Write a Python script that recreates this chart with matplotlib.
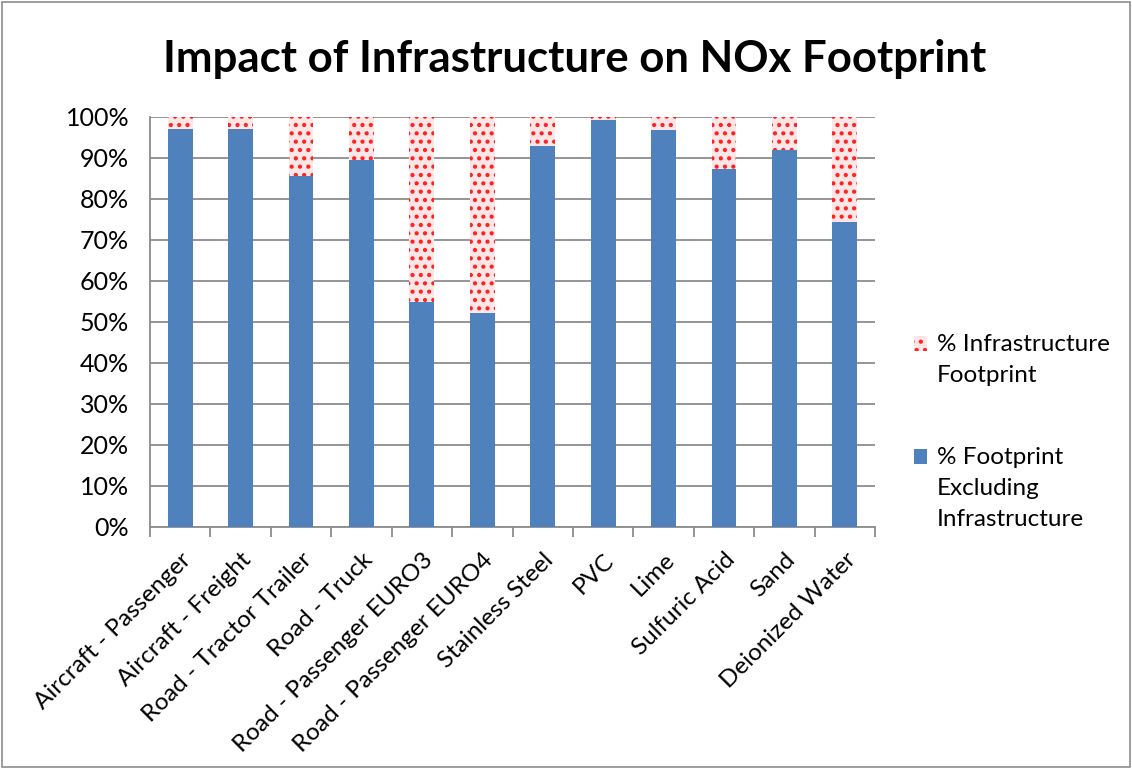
import matplotlib
matplotlib.use("Agg")
import matplotlib.pyplot as plt
import numpy as np
from matplotlib.ticker import PercentFormatter, FixedLocator
from matplotlib.legend_handler import HandlerPatch
from matplotlib.patches import Rectangle

plt.rcParams['font.family'] = ['Lato', 'DejaVu Sans']
plt.rcParams['hatch.linewidth'] = 1.8

categories = ["Aircraft - Passenger", "Aircraft - Freight", "Road - Tractor Trailer",
              "Road - Truck", "Road - Passenger EURO3", "Road - Passenger EURO4",
              "Stainless Steel", "PVC", "Lime", "Sulfuric Acid", "Sand", "Deionized Water"]
excl_infra = [97.0, 97.1, 85.7, 89.6, 54.9, 52.3, 93.0, 99.3, 96.7, 87.2, 92.0, 74.4]
infra = [100 - v for v in excl_infra]
series_names = ["% Infrastructure\nFootprint", "% Footprint\nExcluding\nInfrastructure"]

FS = 17.5

fig = plt.figure(figsize=(11.32, 7.69), dpi=100)
ax = fig.add_axes([0.1325, 0.3147, 0.773 - 0.1325, 0.8479 - 0.3147])

x = np.arange(len(categories))
w = 0.41
b1 = ax.bar(x, excl_infra, width=w, color='#4f81bd', zorder=3, label=series_names[1])
b2 = ax.bar(x, infra, width=w, bottom=excl_infra, facecolor='#ffe6e6', edgecolor='#ff2020',
            hatch='..', linewidth=0, zorder=3, label=series_names[0])

ax.set_xlim(-0.5, len(categories) - 0.5)
ax.set_ylim(0, 100)
ax.set_yticks(np.arange(0, 101, 10))
ax.yaxis.set_major_formatter(PercentFormatter(decimals=0))
ax.grid(axis='y', color='#8c8c8c', linewidth=1.3, zorder=0)
for s in ['top', 'right']:
    ax.spines[s].set_visible(False)
ax.spines['left'].set_color('#8c8c8c')
ax.spines['bottom'].set_color('#8c8c8c')
ax.spines['left'].set_linewidth(1.3)
ax.spines['bottom'].set_linewidth(1.3)
ax.tick_params(axis='y', length=0, labelsize=18, pad=15)
ax.set_xticks(x)
ax.set_xticklabels(categories, rotation=45, ha='right', rotation_mode='anchor', fontsize=FS)
ax.tick_params(axis='x', length=0, pad=16)
ax.xaxis.set_minor_locator(FixedLocator(np.arange(-0.5, len(categories), 1)))
ax.tick_params(axis='x', which='minor', length=7, color='#8c8c8c', width=1.3, direction='out')

fig.suptitle("Impact of Infrastructure on NOx Footprint", x=0.508, y=0.949,
             fontsize=31.5, fontweight='bold')


def make_handler(shift_lines):
    def pf(legend, orig_handle, xdescent, ydescent, width, height, fontsize):
        shift = shift_lines * fontsize * 1.32
        return Rectangle(xy=(-xdescent, -ydescent + shift), width=width, height=height)
    return HandlerPatch(patch_func=pf)


h2 = b2.patches[0]
h1 = b1.patches[0]
leg = fig.legend(handles=[h2, h1], labels=series_names, loc='upper left',
                 bbox_to_anchor=(0.788, 0.5945), frameon=False, fontsize=FS,
                 handlelength=0.55, handleheight=0.55, handletextpad=0.4,
                 labelspacing=2.5,
                 handler_map={h2: make_handler(0.5), h1: make_handler(1.0)})
for t in leg.get_texts():
    t.set_linespacing(1.6)

fig.add_artist(plt.Rectangle((0.002, 0.002), 0.996, 0.996, transform=fig.transFigure,
                             fill=False, edgecolor='#8c8c8c', linewidth=1.2))

fig.savefig("out.png", dpi=100)
